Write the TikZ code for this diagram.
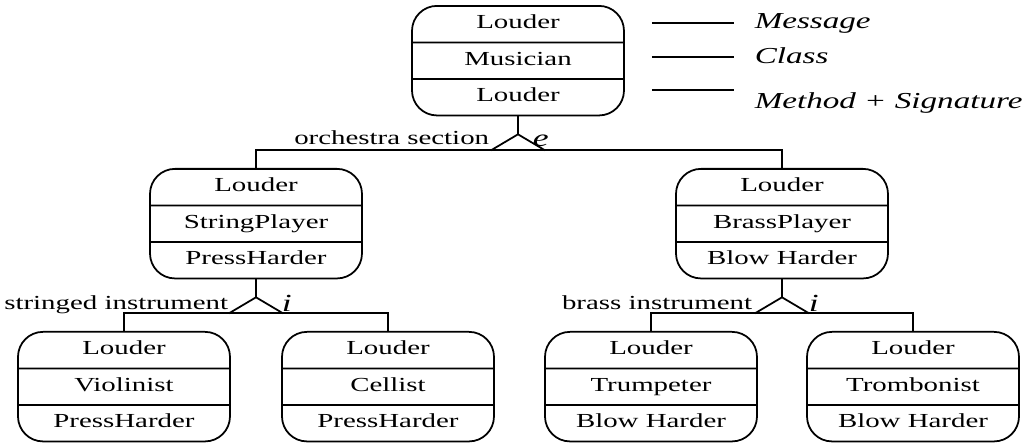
\documentclass[tikz,border=0pt]{standalone}
\usepackage{fontspec}
\setmainfont{Liberation Serif}[FakeStretch=1.45]
\usetikzlibrary{positioning, shapes.multipart}

\begin{document}
\begin{tikzpicture}[
      node distance=1.55cm and 1.6cm,
      line width=1.5pt,
      box/.style={rectangle split, rectangle split parts=3, draw, rounded corners=0.75cm, minimum width=6.36cm, inner ysep=0.17cm, font=\fontsize{17}{20}\selectfont},
      lbl/.style={inner sep=0pt, font=\fontsize{17}{20}\selectfont},
      key/.style={inner sep=0pt, font=\fontsize{19.5}{23}\selectfont\itshape},
      tag/.style={inner sep=0pt, font=\fontsize{21}{24}\selectfont\itshape},
    ]
      \node[box] (musician) {\strut Louder \nodepart{two}\strut Musician \nodepart{three}\strut Louder};
      \node[box, below=of musician, xshift=-7.86cm] (string) {\strut Louder \nodepart{two}\strut StringPlayer \nodepart{three}\strut PressHarder};
      \node[box, below=of musician, xshift=7.92cm] (brass) {\strut Louder \nodepart{two}\strut BrassPlayer \nodepart{three}\strut Blow Harder};
      \node[box, below=of string, xshift=-3.96cm] (violin) {\strut Louder \nodepart{two}\strut Violinist \nodepart{three}\strut PressHarder};
      \node[box, below=of string, xshift=3.96cm] (cello) {\strut Louder \nodepart{two}\strut Cellist \nodepart{three}\strut PressHarder};
      \node[box, below=of brass, xshift=-3.93cm] (trumpet) {\strut Louder \nodepart{two}\strut Trumpeter \nodepart{three}\strut Blow Harder};
      \node[box, below=of brass, xshift=3.93cm] (trombone) {\strut Louder \nodepart{two}\strut Trombonist \nodepart{three}\strut Blow Harder};
      \useasboundingbox ([shift={(-15.54cm,0.15cm)}]musician.north) rectangle ++(31.02cm,-12.78cm);

      % orchestra section
      \coordinate[below=1.02cm of musician.south] (orchfork);
      \draw (musician.south) -- ([yshift=0.48cm]orchfork);
      \draw ([xshift=-0.81cm]orchfork) -- ([yshift=0.48cm]orchfork) -- ([xshift=0.81cm]orchfork);
      \draw (string.north) |- (orchfork) -| (brass.north);
      \node[lbl, anchor=base east] (orchlbl) at ([shift={(-0.84cm,0.18cm)}]orchfork) {orchestra section};
      \node[tag, anchor=base west] (orchtag) at ([shift={(0.42cm,0.12cm)}]orchfork) {e};

      % stringed instrument
      \coordinate[below=1.02cm of string.south] (stringfork);
      \draw (string.south) -- ([yshift=0.48cm]stringfork);
      \draw ([xshift=-0.81cm]stringfork) -- ([yshift=0.48cm]stringfork) -- ([xshift=0.81cm]stringfork);
      \draw (violin.north) |- (stringfork) -| (cello.north);
      \node[lbl, anchor=base east] (stringlbl) at ([shift={(-0.81cm,0.1cm)}]stringfork) {stringed instrument};
      \node[tag, anchor=base west] (stringtag) at ([shift={(0.75cm,0.05cm)}]stringfork) {i};

      % brass instrument
      \coordinate[below=1.02cm of brass.south] (brassfork);
      \draw (brass.south) -- ([yshift=0.48cm]brassfork);
      \draw ([xshift=-0.81cm]brassfork) -- ([yshift=0.48cm]brassfork) -- ([xshift=0.81cm]brassfork);
      \draw (trumpet.north) |- (brassfork) -| (trombone.north);
      \node[lbl, anchor=base east] (brasslbl) at ([shift={(-0.87cm,0.1cm)}]brassfork) {brass instrument};
      \node[tag, anchor=base west] (brasstag) at ([shift={(0.78cm,0.05cm)}]brassfork) {i};

      % legend
      \node[key, anchor=base west] (msgkey) at ([shift={(3.87cm,-0.69cm)}]musician.north east) {Message};
      \node[key, anchor=base west] (classkey) at ([shift={(3.87cm,-1.74cm)}]musician.north east) {Class};
      \node[key, anchor=base west] (methkey) at ([shift={(3.87cm,-3.09cm)}]musician.north east) {Method + Signature};
      \draw ([shift={(-3.06cm,0.15cm)}]msgkey.base west) -- ([shift={(-0.6cm,0.15cm)}]msgkey.base west);
      \draw ([shift={(-3.06cm,0.18cm)}]classkey.base west) -- ([shift={(-0.6cm,0.18cm)}]classkey.base west);
      \draw ([shift={(-3.06cm,0.54cm)}]methkey.base west) -- ([shift={(-0.6cm,0.54cm)}]methkey.base west);
    \end{tikzpicture}
\end{document}
